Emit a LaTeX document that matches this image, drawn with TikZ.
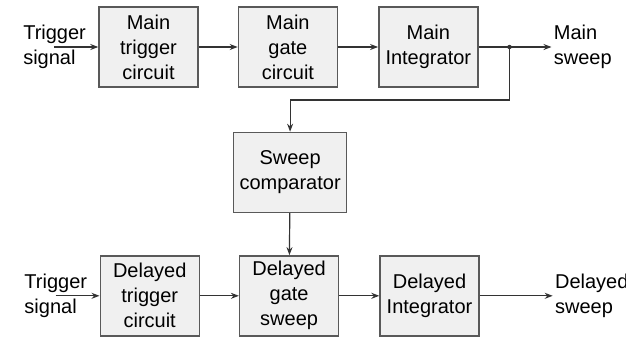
\documentclass[tikz,border=0pt]{standalone}
\usepackage{fontspec}
\setmainfont{Liberation Sans}
\usetikzlibrary{positioning,arrows.meta}

\begin{document}
\begin{tikzpicture}[
  x=0.5pt, y=-0.5pt,
  node distance=19.5pt,
  every node/.style={font=\fontsize{10}{12.5}\selectfont, align=center},
  blk/.style={draw=black!65, fill=gray!12, line width=0.7pt,
    minimum width=49.5pt, minimum height=40pt, inner sep=1pt},
  widebox/.style={blk, minimum width=56.5pt},
  lbl/.style={align=left, inner sep=1pt},
  flow/.style={draw=black!80, line width=0.6pt, -{Stealth[length=4pt,width=3pt]}}
]
\useasboundingbox (0,0) rectangle (626,338);

% main sweep row
\node[blk] (mtrig) at (148.5,47) {Main\\trigger\\circuit};
\node[blk, right=of mtrig] (mgate) {Main\\gate\\circuit};
\node[blk, right=20pt of mgate] (mint) {Main\\Integrator};

% comparator
\node[widebox, below=22pt of mgate.south east, anchor=north, xshift=-24pt] (comp) {Sweep\\comparator};

% delayed sweep row
\node[blk, below=21pt of comp.south, anchor=north, xshift=-0.5pt] (dgate) {Delayed\\gate\\sweep};
\node[blk, left=of dgate] (dtrig) {Delayed\\trigger\\circuit};
\node[blk, right=20pt of dgate] (dint) {Delayed\\Integrator};

% inputs and outputs
\node[lbl, left=5pt of mtrig] (mtin) {Trigger\\signal};
\node[lbl, left=5pt of dtrig] (dtin) {Trigger\\signal};
\coordinate[left=22pt of mtrig.west] (ma);
\coordinate[left=22pt of dtrig.west] (da);
\coordinate[right=15.5pt of mint.east] (j);
\node[lbl, right=36.5pt of mint.east, anchor=west] (mout) {Main\\sweep};
\node[lbl, right=36.5pt of dint.east, anchor=west] (dout) {Delayed\\sweep};

\draw[flow] (ma) -- (mtrig);
\draw[flow] (mtrig) -- (mgate);
\draw[flow] (mgate) -- (mint);
\draw[draw=black!80, line width=0.6pt] (mint) -- (j);
\draw[flow] (j) -- (mout);
\fill[black!80] (j) circle (1.1pt);
\draw[flow] (j) |- ++(0,53) -| (comp);
\draw[flow] (comp) -- (dgate);

\draw[flow] (da) -- (dtrig);
\draw[flow] (dtrig) -- (dgate);
\draw[flow] (dgate) -- (dint);
\draw[flow] (dint) -- (dout);
\end{tikzpicture}
\end{document}
